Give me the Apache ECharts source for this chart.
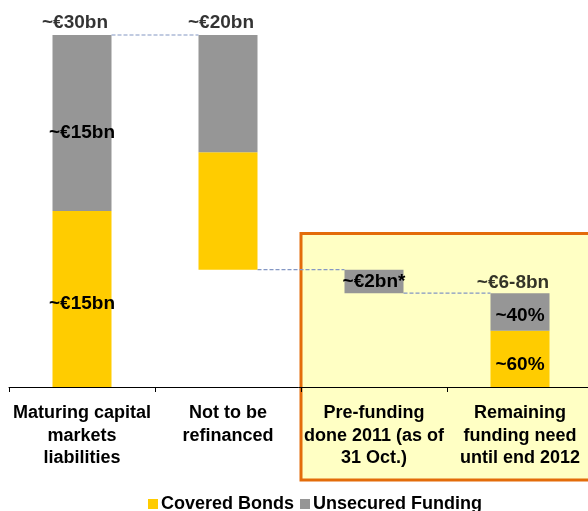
<!DOCTYPE html>
<html>
<head>
<meta charset="utf-8">
<script src="https://cdn.jsdelivr.net/npm/echarts@6/dist/echarts.min.js"></script>
<style>html,body{margin:0;padding:0;background:#fff;}#c{width:588px;height:511px;}</style>
</head>
<body>
<div id="c"></div>
<script>
var categories = ['Maturing capital\nmarkets\nliabilities', 'Not to be\nrefinanced', 'Pre-funding\ndone 2011 (as of\n31 Oct.)', 'Remaining\nfunding need\nuntil end 2012'];
var baseValues = [0, 10, 8, 0];
var coveredValues = [15, 10, 0, 4.8];
var unsecuredValues = [15, 10, 2, 3.2];
var coveredLabels = ['~€15bn', '', '', '~60%'];
var unsecuredLabels = ['~€15bn', '', '~€2bn*', '~40%'];
var totalLabels = ['~€30bn', '~€20bn', '', '~€6-8bn'];
var connectors = [[0, 1, 30], [1, 2, 10], [2, 3, 8]];

var FONT = '"Liberation Sans", Arial, sans-serif';
var BAR_W = 59;
var chart = echarts.init(document.getElementById('c'));

var totals = categories.map(function (c, i) { return baseValues[i] + coveredValues[i] + unsecuredValues[i]; });

function lbl(offsetY) {
  return { show: true, position: 'inside', color: '#000', fontFamily: FONT, fontWeight: 'bold', fontSize: 19, offset: [0, offsetY] };
}

var coveredOffsets = [5, 0, 0, 6];
var unsecuredOffsets = [10, 0, 0, 4];

chart.setOption({
  animation: false,
  graphic: {
    elements: [{
      type: 'rect', z: -10, silent: true,
      shape: { x: 301, y: 233.5, width: 320, height: 246.5 },
      style: { fill: '#FFFFC4', stroke: '#E36C0A', lineWidth: 3 }
    }]
  },
  legend: {
    data: ['Covered Bonds', 'Unsecured Funding'],
    left: 148, top: 495, padding: 0, itemGap: 6,
    itemWidth: 10, itemHeight: 10, icon: 'rect',
    textStyle: { fontFamily: FONT, fontWeight: 'bold', fontSize: 18, color: '#000', padding: [0, 0, 0, -2] }
  },
  grid: { left: 9, top: 35, width: 584, height: 352, containLabel: false, outerBoundsMode: 'none' },
  xAxis: {
    type: 'category', data: categories,
    axisLine: { lineStyle: { color: '#000', width: 1 } },
    axisTick: { show: true, length: 5, lineStyle: { color: '#000' } },
    axisLabel: { interval: 0, margin: 15, color: '#000', fontFamily: FONT, fontWeight: 'bold', fontSize: 18, lineHeight: 22.5 }
  },
  yAxis: { type: 'value', min: 0, max: 30, show: false, splitLine: { show: false } },
  series: [
    {
      name: 'base', type: 'bar', stack: 'w', barWidth: BAR_W, data: baseValues,
      itemStyle: { color: 'transparent' }, silent: true
    },
    {
      name: 'Covered Bonds', type: 'bar', stack: 'w', barWidth: BAR_W,
      itemStyle: { color: '#FFCC00' },
      data: coveredValues.map(function (v, i) {
        return { value: v, label: coveredLabels[i] ? Object.assign(lbl(coveredOffsets[i]), { formatter: coveredLabels[i] }) : { show: false } };
      })
    },
    {
      name: 'Unsecured Funding', type: 'bar', stack: 'w', barWidth: BAR_W,
      itemStyle: { color: '#969696' },
      data: unsecuredValues.map(function (v, i) {
        return { value: v, label: unsecuredLabels[i] ? Object.assign(lbl(unsecuredOffsets[i]), { formatter: unsecuredLabels[i] }) : { show: false } };
      })
    },
    {
      name: 'totals', type: 'scatter', symbolSize: 1, itemStyle: { color: 'transparent' }, silent: true,
      data: totals.map(function (t, i) {
        return {
          value: [i, t],
          label: totalLabels[i] ? { show: true, position: 'top', distance: i === 3 ? 0 : 2, offset: [-7, 0], formatter: totalLabels[i], color: '#000', fontFamily: FONT, fontWeight: 'bold', fontSize: 19 } : { show: false }
        };
      })
    },
    {
      name: 'connectors', type: 'custom', silent: true, z: 3,
      data: connectors,
      renderItem: function (params, api) {
        var p1 = api.coord([api.value(0), api.value(2)]);
        var p2 = api.coord([api.value(1), api.value(2)]);
        return {
          type: 'line',
          shape: { x1: p1[0] + BAR_W / 2, y1: p1[1], x2: p2[0] - BAR_W / 2, y2: p2[1] },
          style: { stroke: '#8497C4', lineWidth: 1.2, lineDash: [4, 2] }
        };
      }
    }
  ]
});
</script>
</body>
</html>
